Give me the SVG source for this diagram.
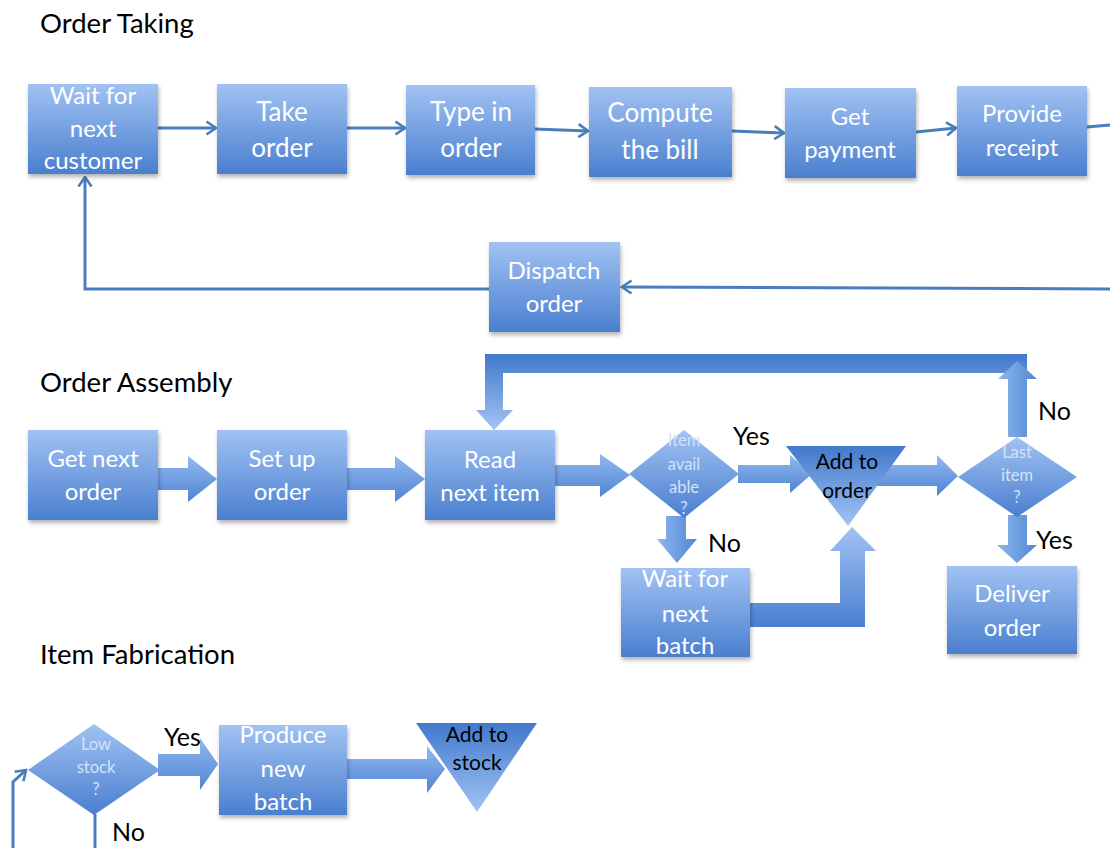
<svg xmlns="http://www.w3.org/2000/svg" width="1110" height="848" viewBox="0 0 1110 848">
<defs>
<linearGradient id="gBox" x1="0" y1="0" x2="0" y2="1"><stop offset="0" stop-color="#a1c2f3"/><stop offset="1" stop-color="#4a7fcf"/></linearGradient>
<linearGradient id="gRev" x1="0" y1="0" x2="0" y2="1"><stop offset="0" stop-color="#4179cb"/><stop offset="1" stop-color="#a3c4f4"/></linearGradient>
<linearGradient id="gArr" x1="0" y1="0" x2="0" y2="1"><stop offset="0" stop-color="#93b9ef"/><stop offset="1" stop-color="#4f84d2"/></linearGradient>
<linearGradient id="gV" x1="0" y1="0" x2="1" y2="0"><stop offset="0" stop-color="#8fb6ee"/><stop offset="1" stop-color="#5088d4"/></linearGradient>
<filter id="sh" x="-10%" y="-10%" width="125%" height="130%"><feDropShadow dx="1" dy="3" stdDeviation="2" flood-color="#000" flood-opacity="0.3"/></filter>
<marker id="ah" viewBox="0 0 12 16" refX="10.5" refY="8" markerWidth="12" markerHeight="16" markerUnits="userSpaceOnUse" orient="auto"><path d="M1,1.5 L10.5,8 L1,14.5" fill="none" stroke="#4a7ebb" stroke-width="2.6"/></marker>
<style>
.box{fill:url(#gBox);filter:url(#sh)}
.tri{fill:url(#gRev)}
.dia{fill:url(#gBox)}
.arr{fill:url(#gArr)}
.arrv{fill:url(#gV)}
.ln{fill:none;stroke:#4a7ebb;stroke-width:3}
.t{font-family:Lato,"Liberation Sans",sans-serif;fill:#ffffff;text-anchor:middle;font-size:24px}
.tb{font-family:Lato,"Liberation Sans",sans-serif;fill:#ffffff;text-anchor:middle;font-size:26px}
.td{font-family:Lato,"Liberation Sans",sans-serif;fill:#d3e2f7;text-anchor:middle;font-size:16.5px}
.tk{font-family:Lato,"Liberation Sans",sans-serif;fill:#000000;text-anchor:middle;font-size:21px}
.lbl{font-family:Lato,"Liberation Sans",sans-serif;fill:#000000;font-size:25px}
.title{font-family:Lato,"Liberation Sans",sans-serif;fill:#000000;font-size:27.5px}
</style>
</defs>
<rect width="1110" height="848" fill="#ffffff"/>

<text class="title" x="40" y="33">Order Taking</text>
<text class="title" x="40" y="392">Order Assembly</text>
<text class="title" x="40" y="664">Item Fabrication</text>

<g id="connectors">
  <line class="ln" x1="158" y1="128" x2="216" y2="128" marker-end="url(#ah)"/>
  <line class="ln" x1="347" y1="128" x2="405" y2="128" marker-end="url(#ah)"/>
  <line class="ln" x1="535" y1="129" x2="588" y2="131" marker-end="url(#ah)"/>
  <line class="ln" x1="732" y1="131" x2="784" y2="133" marker-end="url(#ah)"/>
  <line class="ln" x1="916" y1="132" x2="956" y2="128" marker-end="url(#ah)"/>
  <line class="ln" x1="1087" y1="127" x2="1110" y2="125"/>
  <line class="ln" x1="1110" y1="289" x2="622" y2="287" marker-end="url(#ah)"/>
  <polyline class="ln" points="489,289 85,289 85,177" marker-end="url(#ah)"/>

  <path class="arr" d="M158,468 H188 V456 L217,479 L188,502 V490 H158 Z"/>
  <path class="arr" d="M347,468 H395 V456 L425,479 L395,502 V490 H347 Z"/>
  <path class="arr" d="M555,465 H600 V454 L630,475 L600,497 V486 H555 Z"/>
  <path class="arr" d="M738,465 H790 V455 L812,474 L790,493 V483 H738 Z"/>
  <path class="arr" d="M870,465 H937 V455 L958,476 L937,496 V486 H870 Z"/>
  <path fill="url(#gRev)" d="M1027,354 V373 H503 V410 H513 L494,430 L476,410 H485 V354 Z"/>
  <path class="arrv" d="M1008,437 V379 H998 L1017,361 L1037,379 H1027 V437 Z"/>
  <path class="arrv" d="M666,516 V539 H657 L677,563 L697,539 H686 V516 Z"/>
  <path class="arrv" d="M1008,515 V545 H997 L1017,563 L1037,545 H1027 V515 Z"/>
  <path fill="url(#gBox)" d="M750,603 H840 V551 H830 L852,527 L876,551 H865 V627 H750 Z"/>

  <path class="arr" d="M158,754 H200 V738 L218,764 L200,790 V776 H158 Z"/>
  <path class="arr" d="M347,759 H427 V746 L445,769 L427,793 V779 H347 Z"/>
  <line class="ln" x1="95" y1="814" x2="95" y2="848"/>
  <polyline class="ln" points="13,848 13,782 26,770" marker-end="url(#ah)"/>

  <text class="lbl" x="733" y="445">Yes</text>
  <text class="lbl" x="708" y="552">No</text>
  <text class="lbl" x="1038" y="420">No</text>
  <text class="lbl" x="1036" y="549">Yes</text>
  <text class="lbl" x="164" y="746">Yes</text>
  <text class="lbl" x="112" y="841">No</text>
</g>

<g id="wait-customer"><rect class="box" x="28" y="84" width="130" height="90"/>
<text class="t" x="93" y="104">Wait for</text><text class="t" x="93" y="137">next</text><text class="t" x="93" y="169">customer</text></g>
<g id="take-order"><rect class="box" x="217" y="84" width="130" height="90"/>
<text class="tb" x="282" y="121">Take</text><text class="tb" x="282" y="157">order</text></g>
<g id="type-order"><rect class="box" x="406" y="85" width="129" height="90"/>
<text class="tb" x="471" y="121">Type in</text><text class="tb" x="471" y="157">order</text></g>
<g id="compute-bill"><rect class="box" x="589" y="87" width="143" height="90"/>
<text class="tb" x="660" y="122">Compute</text><text class="tb" x="660" y="159">the bill</text></g>
<g id="get-payment"><rect class="box" x="785" y="88" width="131" height="90"/>
<text class="t" x="850" y="125">Get</text><text class="t" x="850" y="158">payment</text></g>
<g id="provide-receipt"><rect class="box" x="957" y="86" width="130" height="90"/>
<text class="t" x="1022" y="122">Provide</text><text class="t" x="1022" y="156">receipt</text></g>
<g id="dispatch-order"><rect class="box" x="489" y="242" width="131" height="90"/>
<text class="t" x="554" y="279">Dispatch</text><text class="t" x="554" y="312">order</text></g>

<g id="get-next-order"><rect class="box" x="28" y="430" width="130" height="90"/>
<text class="t" x="93" y="467">Get next</text><text class="t" x="93" y="500">order</text></g>
<g id="set-up-order"><rect class="box" x="217" y="430" width="130" height="90"/>
<text class="t" x="282" y="467">Set up</text><text class="t" x="282" y="500">order</text></g>
<g id="read-next-item"><rect class="box" x="425" y="430" width="130" height="90"/>
<text class="t" x="490" y="468">Read</text><text class="t" x="490" y="501">next item</text></g>
<g id="item-available"><polygon class="dia" points="629,474 684,430 739,474 684,518"/>
<text class="td" x="684" y="446">Item</text><text class="td" x="684" y="470">avail</text><text class="td" x="684" y="493">able</text><text class="td" x="684" y="514">?</text></g>
<g id="add-to-order"><polygon class="tri" points="786,446 906,446 848,526"/>
<text class="tk" x="847" y="469">Add to</text><text class="tk" x="847" y="498">order</text></g>
<g id="last-item"><polygon class="dia" points="958,477 1017,437 1077,477 1017,517"/>
<text class="td" x="1017" y="458">Last</text><text class="td" x="1017" y="481">item</text><text class="td" x="1017" y="503">?</text></g>
<g id="wait-next-batch"><rect class="box" x="621" y="568" width="129" height="89"/>
<text class="t" x="685" y="587">Wait for</text><text class="t" x="685" y="622">next</text><text class="t" x="685" y="654">batch</text></g>
<g id="deliver-order"><rect class="box" x="947" y="566" width="130" height="88"/>
<text class="t" x="1012" y="602">Deliver</text><text class="t" x="1012" y="636">order</text></g>

<g id="low-stock"><polygon class="dia" points="28,770 94,724 160,770 94,815"/>
<text class="td" x="96" y="750">Low</text><text class="td" x="96" y="773">stock</text><text class="td" x="96" y="795">?</text></g>
<g id="produce-batch"><rect class="box" x="219" y="725" width="128" height="90"/>
<text class="t" x="283" y="743">Produce</text><text class="t" x="283" y="777">new</text><text class="t" x="283" y="810">batch</text></g>
<g id="add-to-stock"><polygon class="tri" points="416,723 537,723 477,812"/>
<text class="tk" x="477" y="742">Add to</text><text class="tk" x="477" y="770">stock</text></g>
</svg>
